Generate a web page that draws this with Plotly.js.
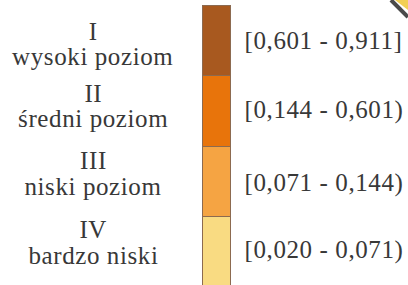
<!DOCTYPE html>
<html>
<head>
<meta charset="utf-8">
<script src="https://cdn.plot.ly/plotly-3.0.1.min.js"></script>
<style>html,body{margin:0;padding:0;background:#fff;}#chart{width:408px;height:285px;}
#chart .annotation-text{letter-spacing:0.6px;}</style>
</head>
<body>
<div id="chart"></div>
<script>
// Data (top to bottom)
const numerals = ['I', 'II', 'III', 'IV'];
const levelNames = ['wysoki poziom', 'średni poziom', 'niski poziom', 'bardzo niski'];
const ranges = ['[0,601 - 0,911]', '[0,144 - 0,601)', '[0,071 - 0,144)', '[0,020 - 0,071)'];
const classSizes = [1, 1, 1, 1];
const classColors = ['#A8591F', '#E8740B', '#F5A443', '#F9DB82'];

// Layout positions (pixels from top)
const numeralY = [31, 93, 160, 229.5];
const nameY = [56.5, 118.5, 186, 255];
const rangeY = [40, 110, 183, 250];
const W = 408, H = 285;

const traces = [];
for (let i = numerals.length - 1; i >= 0; i--) {
  traces.push({
    type: 'bar',
    x: ['skala'],
    y: [classSizes[i]],
    name: numerals[i],
    width: 0.5,
    marker: { color: classColors[i], line: { color: '#8c6a50', width: 1 } },
    hoverinfo: 'skip'
  });
}

const font = { family: 'Liberation Serif', size: 25, color: '#383838' };
const annotations = [];
numerals.forEach((n, i) => {
  annotations.push({ text: n, xref: 'paper', yref: 'paper', x: 93 / W, y: 1 - numeralY[i] / H,
    xanchor: 'center', yanchor: 'middle', showarrow: false, font: font });
  annotations.push({ text: levelNames[i], xref: 'paper', yref: 'paper', x: 93 / W, y: 1 - nameY[i] / H,
    xanchor: 'center', yanchor: 'middle', showarrow: false, font: font });
  annotations.push({ text: ranges[i], xref: 'paper', yref: 'paper', x: 247 / W, y: 1 - rangeY[i] / H,
    xanchor: 'left', yanchor: 'middle', showarrow: false, font: font });
});

const layout = {
  width: W, height: H,
  margin: { l: 0, r: 0, t: 0, b: 0 },
  font: { family: 'Liberation Serif' },
  paper_bgcolor: '#ffffff', plot_bgcolor: '#ffffff',
  barmode: 'stack',
  showlegend: false,
  xaxis: { type: 'category', range: [-216 / 56, 192 / 56], visible: false, fixedrange: true },
  yaxis: { range: [4 - 280 / 70.5, 4 + 5 / 70.5], visible: false, fixedrange: true },
  annotations: annotations,
  shapes: [
    { type: 'path', xref: 'paper', yref: 'paper',
      path: 'M ' + (395 / W) + ' 1 L 1 1 L 1 ' + (1 - 10 / H) + ' Z',
      fillcolor: '#F2CF55', line: { width: 0 } },
    { type: 'line', xref: 'paper', yref: 'paper',
      x0: 391 / W, y0: 1, x1: 1, y1: 1 - 17 / H,
      line: { color: '#4a4a4a', width: 4 } }
  ]
};

Plotly.newPlot('chart', traces, layout, { staticPlot: true, displayModeBar: false });
</script>
</body>
</html>
